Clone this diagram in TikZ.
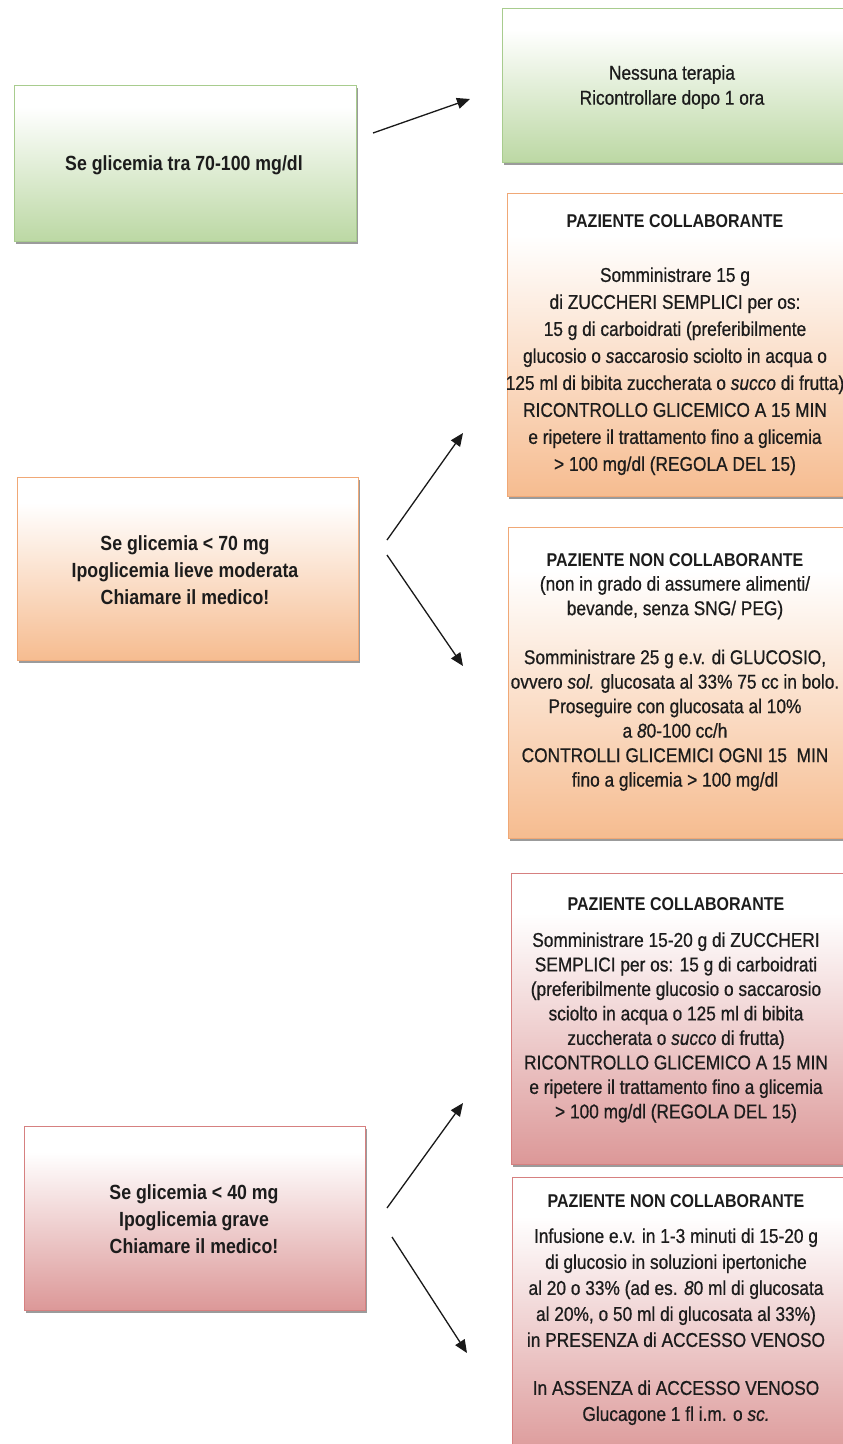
\documentclass[tikz,border=0pt]{standalone}
\usepackage{fontspec}
\setmainfont[FakeStretch=0.865, UprightFeatures={FakeBold=0.7}, ItalicFeatures={FakeBold=0.7}]{Liberation Sans}
\usetikzlibrary{arrows.meta,shadows}
\definecolor{gbot}{RGB}{188,216,164}
\definecolor{gline}{RGB}{168,204,142}
\definecolor{obot}{RGB}{246,188,144}
\definecolor{oline}{RGB}{240,168,118}
\definecolor{rbot}{RGB}{220,152,152}
\definecolor{rline}{RGB}{214,128,128}
\definecolor{txt}{RGB}{28,28,28}
\pgfdeclareverticalshading{gfade}{100bp}{color(0bp)=(gbot); color(25bp)=(gbot); color(68bp)=(white); color(100bp)=(white)}
\pgfdeclareverticalshading{ofade}{100bp}{color(0bp)=(obot); color(25bp)=(obot); color(68bp)=(white); color(100bp)=(white)}
\pgfdeclareverticalshading{rfade}{100bp}{color(0bp)=(rbot); color(25bp)=(rbot); color(68bp)=(white); color(100bp)=(white)}
\tikzset{
  boxbase/.style={rectangle, line width=0.9pt, inner sep=0pt,
    drop shadow={shadow xshift=1.5pt, shadow yshift=-3pt, fill=black!65, opacity=0.6}},
  gbox/.style={boxbase, draw=gline, shading=gfade},
  obox/.style={boxbase, draw=oline, shading=ofade},
  rbox/.style={boxbase, draw=rline, shading=rfade},
  lefttext/.style={align=center, text=txt, inner sep=0pt, font=\bfseries\fontsize{20.5}{27}\selectfont},
  righttext/.style={align=center, text=txt, inner sep=0pt, font=\fontsize{20}{25}\selectfont},
  arr/.style={-{Triangle[length=13pt,width=11pt]}, line width=1.3pt, draw=black!90},
}
\newcommand{\hd}[1]{{\bfseries\fontsize{18.5}{22}\selectfont #1}}
\begin{document}
\begin{tikzpicture}[x=1pt,y=-1pt]
\useasboundingbox (0,0) rectangle (843,1444);
\clip (0,0) rectangle (843,1444);
\fill[white] (0,0) rectangle (843,1444);

% boxes
\node[gbox, minimum width=342pt, minimum height=156pt] (boxA) at (185,163) {};
\node[gbox, minimum width=345pt, minimum height=154pt] (boxB) at (674.5,85) {};
\node[obox, minimum width=341pt, minimum height=183pt] (boxG) at (187.5,568.5) {};
\node[obox, minimum width=340pt, minimum height=303pt] (boxC) at (677,344.5) {};
\node[obox, minimum width=339pt, minimum height=311pt] (boxD) at (677.5,682.5) {};
\node[rbox, minimum width=341pt, minimum height=184pt] (boxH) at (194.5,1218) {};
\node[rbox, minimum width=336pt, minimum height=291pt] (boxE) at (679,1018.5) {};
\node[rbox, minimum width=335pt, minimum height=283pt] (boxF) at (679.5,1318.5) {};

% texts
\node[lefttext] (tA) at (184,165) {Se glicemia tra 70-100 mg/dl};
\node[righttext] (tB) at (672,87) {Nessuna terapia\\Ricontrollare dopo 1 ora};
\node[lefttext] (tG) at (185,570) {Se glicemia < 70 mg\\Ipoglicemia lieve moderata\\Chiamare il medico!};
\node[lefttext] (tH) at (194,1219) {Se glicemia < 40 mg\\Ipoglicemia grave\\Chiamare il medico!};

\node[righttext, font=\fontsize{20}{27}\selectfont] (tC) at (675,345) {\hd{PAZIENTE COLLABORANTE}\\[27pt]
Somministrare 15 g\\
di ZUCCHERI SEMPLICI per os:\\
15 g di carboidrati (preferibilmente\\
glucosio o \textit{s}accarosio sciolto in acqua o\\
125 ml di bibita zuccherata o \textit{succo} di frutta)\\
RICONTROLLO GLICEMICO A 15 MIN\\
e ripetere il trattamento fino a glicemia\\
> 100 mg/dl (REGOLA DEL 15)};

\node[righttext, font=\fontsize{20}{24.5}\selectfont] (tD) at (675,672) {\hd{PAZIENTE NON COLLABORANTE}\\
(non in grado di assumere alimenti/\\
bevande, senza SNG/ PEG)\\[24.5pt]
Somministrare 25 g e.v. di GLUCOSIO,\\
ovvero \textit{sol.} glucosata al 33\% 75 cc in bolo.\\
Proseguire con glucosata al 10\%\\
a \textit{8}0-100 cc/h\\
CONTROLLI GLICEMICI OGNI 15 \ MIN\\
fino a glicemia > 100 mg/dl};

\node[righttext, font=\fontsize{20}{24.5}\selectfont] (tE) at (676,1010) {\hd{PAZIENTE COLLABORANTE}\\[12pt]
Somministrare 15-20 g di ZUCCHERI\\
SEMPLICI per os: 15 g di carboidrati\\
(preferibilmente glucosio o saccarosio\\
sciolto in acqua o 125 ml di bibita\\
zuccherata o \textit{succo} di frutta)\\
RICONTROLLO GLICEMICO A 15 MIN\\
e ripetere il trattamento fino a glicemia\\
> 100 mg/dl (REGOLA DEL 15)};

\node[righttext, font=\fontsize{20}{26}\selectfont] (tF) at (676,1310) {\hd{PAZIENTE NON COLLABORANTE}\\[9pt]
Infusione e.v. in 1-3 minuti di 15-20 g\\
di glucosio in soluzioni ipertoniche\\
al 20 o 33\% (ad es. \textit{8}0 ml di glucosata\\
al 20\%, o 50 ml di glucosata al 33\%)\\
in PRESENZA di ACCESSO VENOSO\\[22pt]
In ASSENZA di ACCESSO VENOSO\\
Glucagone 1 fl i.m. o \textit{sc.}};

% arrows
\coordinate (a1s) at (373,133);
\coordinate (a1e) at (470,99);
\coordinate (a2s) at (387,540);
\coordinate (a2e) at (463,433);
\coordinate (a3s) at (387,555);
\coordinate (a3e) at (463,666);
\coordinate (a4s) at (387,1208);
\coordinate (a4e) at (463,1103);
\coordinate (a5s) at (392,1237);
\coordinate (a5e) at (467,1353);
\draw[arr] (a1s) -- (a1e);
\draw[arr] (a2s) -- (a2e);
\draw[arr] (a3s) -- (a3e);
\draw[arr] (a4s) -- (a4e);
\draw[arr] (a5s) -- (a5e);
\end{tikzpicture}
\end{document}
